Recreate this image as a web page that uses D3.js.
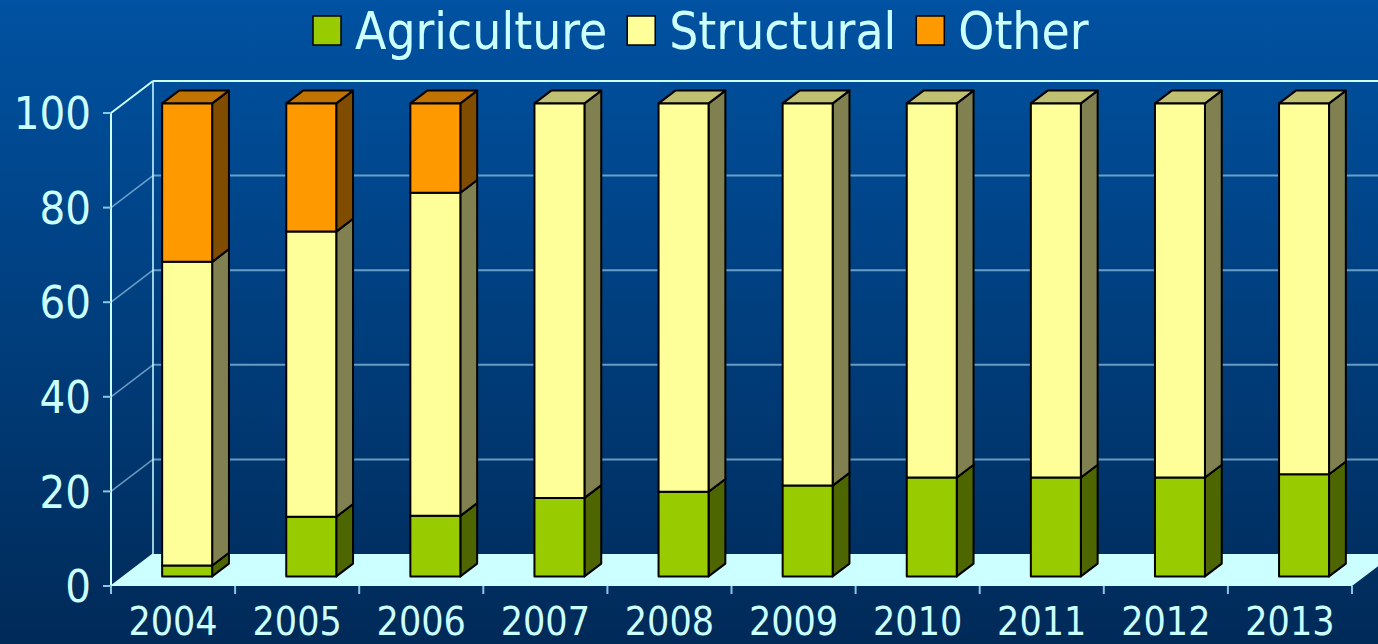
<!DOCTYPE html>
<html><head><meta charset="utf-8">
<script src="https://cdn.jsdelivr.net/npm/d3@7"></script>
<style>
html,body{margin:0;padding:0;background:#003a78;overflow:hidden;}
svg text{font-family:"DejaVu Sans Condensed","DejaVu Sans",sans-serif;font-stretch:condensed;fill:#ccffff;}
</style></head>
<body><svg id="c" width="1378" height="644"></svg>
<script>
const years = ["2004","2005","2006","2007","2008","2009","2010","2011","2012","2013"];
const agriculture = [2.3, 12.6, 12.8, 16.6, 17.9, 19.2, 20.9, 20.9, 20.9, 21.6];
const structural = [64.2, 60.3, 68.3, 83.4, 82.1, 80.8, 79.1, 79.1, 79.1, 78.4];
const other = [33.5, 27.1, 18.9, 0, 0, 0, 0, 0, 0, 0];
const seriesNames = ["Agriculture", "Structural", "Other"];
const yTicks = [0, 20, 40, 60, 80, 100];

const colors = {
  Agriculture: {front:"#99cc00", side:"#4d6600", top:"#739900"},
  Structural: {front:"#ffff99", side:"#808050", top:"#c0c073"},
  Other: {front:"#ff9900", side:"#804c00", top:"#c07300"}
};

const svg = d3.select("#c");
const W = 1378, H = 644;
const defs = svg.append("defs");
const grad = defs.append("linearGradient").attr("id","bg").attr("x1",0).attr("y1",0).attr("x2",0).attr("y2",1);
grad.append("stop").attr("offset","0%").attr("stop-color","#0052a2");
grad.append("stop").attr("offset","100%").attr("stop-color","#002a58");
svg.append("rect").attr("width",W).attr("height",H).attr("fill","url(#bg)");

// geometry
const x0 = 111, x1 = 1352;
const DX = 42, DY = -32;
const x = d3.scaleBand().domain(years).range([x0, x1]);
const y = d3.scaleLinear().domain([0,100]).range([586, 113]);
const lineCol = "#ccffff";
const gridCol = "rgba(190,235,255,0.55)";

// floor
svg.append("path")
  .attr("d", `M${x0},${y(0)} L${x1},${y(0)} L${x1+DX},${y(0)+DY} L${x0+DX},${y(0)+DY} Z`)
  .attr("fill", "#ccffff");

// back wall gridlines
const g = svg.append("g");
yTicks.forEach(t => {
  if (t === 0) return;
  g.append("line").attr("x1", x0+DX).attr("x2", W).attr("y1", y(t)+DY).attr("y2", y(t)+DY)
    .attr("stroke", t === 100 ? lineCol : gridCol).attr("stroke-width", 2);
  g.append("line").attr("x1", x0).attr("x2", x0+DX).attr("y1", y(t)).attr("y2", y(t)+DY)
    .attr("stroke", t === 100 ? lineCol : gridCol).attr("stroke-width", t===100?2:1.5);
});
// left wall verticals
g.append("line").attr("x1", x0+DX).attr("x2", x0+DX).attr("y1", y(100)+DY).attr("y2", y(0)+DY)
  .attr("stroke", lineCol).attr("stroke-width", 1.5);
g.append("line").attr("x1", x0).attr("x2", x0).attr("y1", y(100)).attr("y2", y(0)+7)
  .attr("stroke", lineCol).attr("stroke-width", 2);
g.append("line").attr("x1", x0).attr("x2", x0+DX).attr("y1", y(0)).attr("y2", y(0)+DY)
  .attr("stroke", lineCol).attr("stroke-width", 1.5);

// y ticks & labels
yTicks.forEach(t => {
  g.append("line").attr("x1", x0-8).attr("x2", x0).attr("y1", y(t)).attr("y2", y(t))
    .attr("stroke", "#88c8e0").attr("stroke-width", 2);
  g.append("text").attr("x", 91).attr("y", y(t)).attr("dy", "0.36em")
    .attr("text-anchor", "end").attr("font-size", 45).text(t);
});

// x ticks & labels
const xb = years.map(d => x(d)).concat([x1]);
xb.forEach(v => {
  g.append("line").attr("x1", v).attr("x2", v).attr("y1", y(0)).attr("y2", y(0)+8)
    .attr("stroke", "#88c8e0").attr("stroke-width", 2);
});
years.forEach(d => {
  g.append("text").attr("x", x(d) + x.bandwidth()/2).attr("y", 635)
    .attr("text-anchor", "middle").attr("font-size", 39).text(d);
});

// bars
const fD = 0.3, bD = 0.4;
const bw = 50;
const sx = DX*bD, sy = DY*bD;
const bars = svg.append("g");
years.forEach((d, i) => {
  const vals = [agriculture[i], structural[i], other[i]];
  const bx = x(d) + x.bandwidth()/2 + DX*fD - bw/2 + 1.5;
  let cum = 0;
  vals.forEach((v, k) => {
    if (v <= 0) return;
    const c = colors[seriesNames[k]];
    const yb = y(cum) + DY*fD, yt = y(cum+v) + DY*fD;
    cum += v;
    const st = {stroke:"#000", "stroke-width":2, "stroke-linejoin":"round"};
    const side = bars.append("path")
      .attr("d", `M${bx+bw},${yb} L${bx+bw+sx},${yb+sy} L${bx+bw+sx},${yt+sy} L${bx+bw},${yt} Z`)
      .attr("fill", c.side);
    const top = bars.append("path")
      .attr("d", `M${bx},${yt} L${bx+sx},${yt+sy} L${bx+bw+sx},${yt+sy} L${bx+bw},${yt} Z`)
      .attr("fill", c.top);
    const front = bars.append("rect").attr("x", bx).attr("y", yt).attr("width", bw).attr("height", yb-yt)
      .attr("fill", c.front);
    [side, top, front].forEach(s => Object.entries(st).forEach(([k2, v2]) => s.attr(k2, v2)));
  });
});

// legend
const lg = svg.append("g");
let lx = 313;
seriesNames.forEach(n => {
  lg.append("rect").attr("x", lx).attr("y", 16).attr("width", 28).attr("height", 29)
    .attr("fill", colors[n].front).attr("stroke", "#000").attr("stroke-width", 1.5);
  const t = lg.append("text").attr("x", lx + 42).attr("y", 31).attr("dy", "0.36em")
    .attr("font-size", 51).text(n);
  lx += 42 + t.node().getComputedTextLength() + 20;
});
</script></body></html>
